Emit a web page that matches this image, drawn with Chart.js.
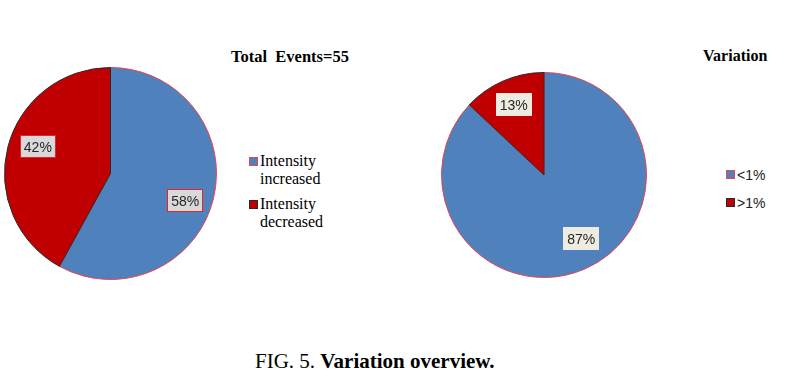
<!DOCTYPE html>
<html>
<head>
<meta charset="utf-8">
<script src="https://cdn.jsdelivr.net/npm/chart.js@4.4.1/dist/chart.umd.min.js"></script>
<style>
  html, body { margin: 0; padding: 0; background: #ffffff; }
  body { width: 792px; height: 380px; position: relative; overflow: hidden; }
  canvas { position: absolute; }
  .t { position: absolute; white-space: pre; line-height: 1; }
  .serif { font-family: "Liberation Serif", "Times New Roman", serif; color: #000; }
  .sans { font-family: "Liberation Sans", Arial, sans-serif; color: #222; }
  .sw { position: absolute; box-sizing: border-box; width: 9px; height: 9px; }
</style>
</head>
<body>
<canvas id="c1" width="213" height="213" style="left:4px;top:67px;width:213px;height:213px"></canvas>
<canvas id="c2" width="206" height="206" style="left:441px;top:72px;width:206px;height:206px"></canvas>

<div class="t serif" id="title1" style="left:231px;top:49px;font-size:16.5px;font-weight:bold;"></div>
<div class="t serif" id="title2" style="left:703px;top:48px;font-size:16px;font-weight:bold;"></div>

<div id="legend1"></div>
<div id="legend2"></div>

<div class="t serif" style="left:255px;top:351px;font-size:21px;">FIG. 5. <b>Variation overview.</b></div>

<script>
// ---- Data ----
const leftTitle = "Total  Events=55";
const leftCategories = ["Intensity increased", "Intensity decreased"];
const leftLegendLines = [["Intensity", "increased"], ["Intensity", "decreased"]];
const leftValues = [58, 42];

const rightTitle = "Variation";
const rightCategories = ["<1%", ">1%"];
const rightValues = [87, 13];

const sliceColors = ["#4f81bd", "#c00000"];
const sliceBorders = ["#e8454f", "#2a2a2a"];

document.getElementById('title1').textContent = leftTitle;
document.getElementById('title2').textContent = rightTitle;

// ---- Label plugin: draws percentage boxes at positions derived from arcs ----
const boxLabels = {
  id: 'boxLabels',
  afterDatasetsDraw(chart, args, opts) {
    const ctx = chart.ctx;
    const meta = chart.getDatasetMeta(0);
    const data = chart.data.datasets[0].data;
    const total = data.reduce((a, b) => a + b, 0);
    meta.data.forEach((arc, i) => {
      const p = arc.getProps(['x', 'y', 'startAngle', 'endAngle', 'outerRadius'], true);
      const mid = (p.startAngle + p.endAngle) / 2 + (opts.angleShift ? opts.angleShift[i] : 0);
      const r = p.outerRadius * (opts.factor ? opts.factor[i] : 0.74);
      const cx = p.x + Math.cos(mid) * r;
      const cy = p.y + Math.sin(mid) * r;
      const txt = Math.round(data[i] / total * 100) + '%';
      ctx.save();
      ctx.font = '14px "Liberation Sans", Arial, sans-serif';
      const w = ctx.measureText(txt).width + 8;
      const h = 23;
      ctx.fillStyle = opts.bg;
      ctx.fillRect(Math.round(cx - w / 2), Math.round(cy - h / 2), Math.round(w), h);
      if (opts.border) {
        ctx.strokeStyle = opts.border;
        ctx.lineWidth = 1;
        ctx.strokeRect(Math.round(cx - w / 2) + 0.5, Math.round(cy - h / 2) + 0.5, Math.round(w) - 1, h - 1);
      }
      ctx.fillStyle = '#262626';
      ctx.textAlign = 'center';
      ctx.textBaseline = 'middle';
      ctx.fillText(txt, cx, cy + 1);
      ctx.restore();
    });
  }
};

function makePie(id, labels, values, labelOpts) {
  return new Chart(document.getElementById(id), {
    type: 'pie',
    data: {
      labels: labels,
      datasets: [{
        data: values,
        backgroundColor: sliceColors,
        borderColor: sliceBorders,
        borderWidth: 1
      }]
    },
    options: {
      responsive: false,
      animation: false,
      layout: { padding: 0 },
      plugins: {
        legend: { display: false },
        tooltip: { enabled: false },
        title: { display: false },
        boxLabels: labelOpts
      }
    },
    plugins: [boxLabels]
  });
}

makePie('c1', leftCategories, leftValues, { bg: '#d9d9d9', border: '#e8222a', factor: [0.75, 0.73], angleShift: [0.1, 0.1] });
makePie('c2', rightCategories, rightValues, { bg: '#eeece1', border: null, factor: [0.72, 0.745], angleShift: [-0.12, 0] });

// ---- HTML legends ----
function legend(containerId, lines, fontCls, fontSize, left, tops, lineH, swTopOffsets) {
  const c = document.getElementById(containerId);
  lines.forEach((ls, i) => {
    const sw = document.createElement('div');
    sw.className = 'sw';
    sw.style.left = left + 'px';
    sw.style.top = (tops[i] + swTopOffsets) + 'px';
    sw.style.background = sliceColors[i];
    sw.style.border = '1px solid ' + sliceBorders[i];
    c.appendChild(sw);
    ls.forEach((txt, j) => {
      const d = document.createElement('div');
      d.className = 't ' + fontCls;
      d.style.fontSize = fontSize + 'px';
      d.style.left = (left + 11) + 'px';
      d.style.top = (tops[i] + j * lineH) + 'px';
      d.textContent = txt;
      c.appendChild(d);
    });
  });
}
legend('legend1', leftLegendLines, 'serif', 16, 249, [153, 196], 18, 4);
legend('legend2', rightCategories.map(s => [s]), 'sans', 14, 726, [168, 196], 18, 2);
</script>
</body>
</html>
